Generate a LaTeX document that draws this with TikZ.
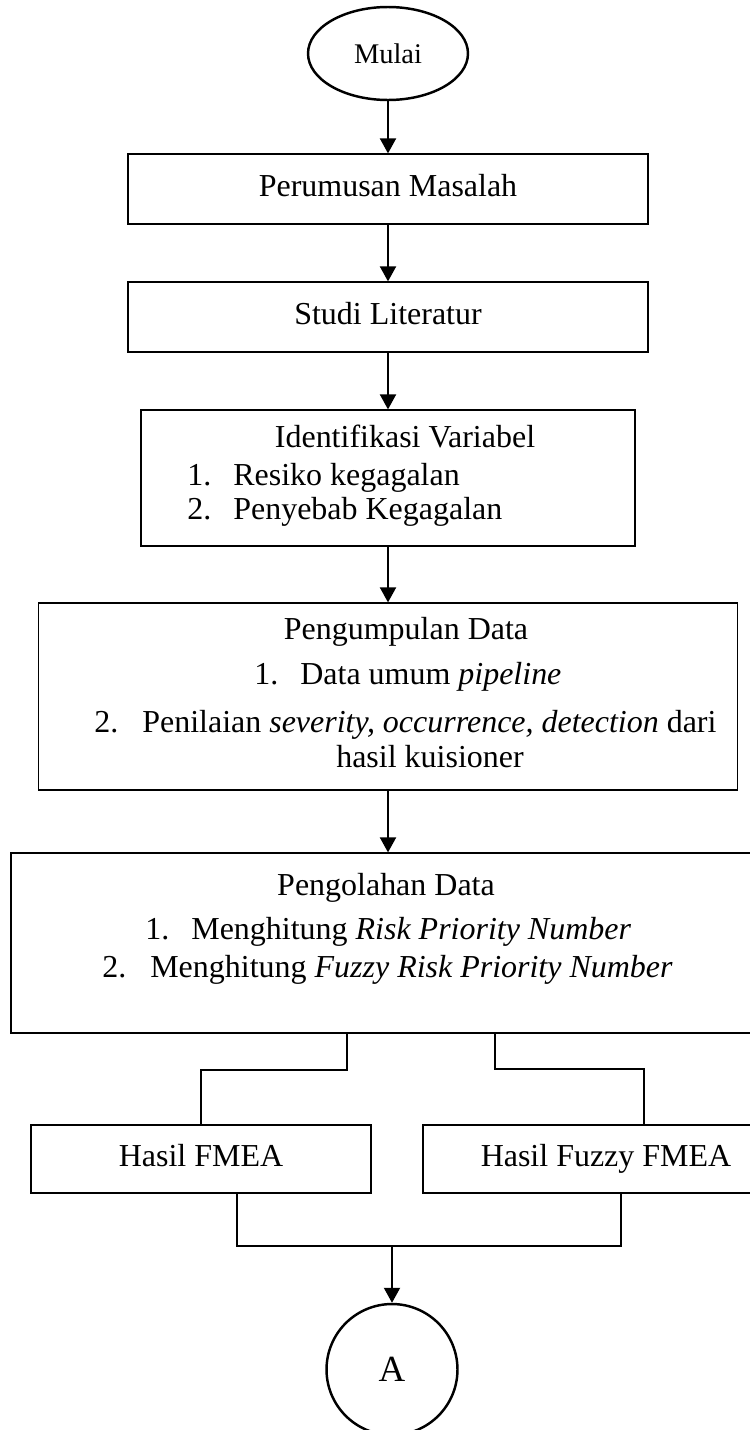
\documentclass[tikz,border=0pt]{standalone}
\usepackage{fontspec}
\setmainfont{Liberation Serif}
\usetikzlibrary{arrows.meta,shapes.geometric}
\newcommand{\teks}{\fontsize{18.2}{22}\selectfont}
\tikzset{
	kotak/.style={draw,line width=0.7pt,rectangle,inner sep=0pt,text height=0.45cm,text depth=0.14cm,font=\teks},
	tulisan/.style={inner sep=0pt,text height=0.45cm,text depth=0.14cm,font=\teks},
	garis/.style={line width=1.1pt},
	panah/.style={line width=1.1pt,-{Triangle[length=0.3cm,width=0.32cm]}},
}
\begin{document}
\begin{tikzpicture}[x=0.02cm,y=-0.02cm]
		\useasboundingbox (0,0) rectangle (750,1430);

		\node[ellipse,draw,line width=1.4pt,minimum width=3.2cm,minimum height=1.86cm,inner sep=0pt,font=\fontsize{16.2}{20}\selectfont] (mulai) at (388,53.5) {Mulai};

		\node[kotak,minimum width=10.4cm,minimum height=1.4cm] (perumusan) at (388,189) {Perumusan Masalah};
		\node[kotak,minimum width=10.4cm,minimum height=1.4cm] (studi) at (388,317) {Studi Literatur};

		\node[kotak,minimum width=9.88cm,minimum height=2.72cm] (identifikasi) at (388,478) {};
		\node[tulisan] (tidentifikasi) at (405,440) {Identifikasi Variabel};
		\node[tulisan,anchor=west] (resiko) at (187,478) {\makebox[0.92cm][l]{1.}Resiko kegagalan};
		\node[tulisan,anchor=west] (penyebab) at (187,512) {\makebox[0.92cm][l]{2.}Penyebab Kegagalan};

		\node[kotak,minimum width=13.98cm,minimum height=3.74cm] (pengumpulan) at (388,696.5) {};
		\node[tulisan] (tpengumpulan) at (406,632) {Pengumpulan Data};
		\node[tulisan,anchor=west] (dataumum) at (254,677) {\makebox[0.92cm][l]{1.}Data umum \textit{pipeline}};
		\node[tulisan,anchor=west] (penilaian) at (94,725) {\makebox[0.96cm][l]{2.}Penilaian \textit{severity, occurrence, detection} dari};
		\node[tulisan] (kuisioner) at (430,760) {hasil kuisioner};

		\node[kotak,minimum width=14.88cm,minimum height=3.6cm] (pengolahan) at (383,943) {};
		\node[tulisan] (tpengolahan) at (386,888) {Pengolahan Data};
		\node[tulisan,anchor=west] (rpn) at (145,932) {\makebox[0.92cm][l]{1.}Menghitung \textit{Risk Priority Number}};
		\node[tulisan,anchor=west] (frpn) at (102,970) {\makebox[0.96cm][l]{2.}Menghitung \textit{Fuzzy Risk Priority Number}};

		\node[kotak,minimum width=6.8cm,minimum height=1.36cm] (fmea) at (201,1159) {Hasil FMEA};
		\node[kotak,minimum width=7.32cm,minimum height=1.36cm] (fuzzy) at (606,1159) {Hasil Fuzzy FMEA};

		\node[circle,draw,line width=1.4pt,minimum size=2.62cm,inner sep=0pt,font=\fontsize{21}{25}\selectfont] (lingkaran) at (392,1369.5) {A};

		\draw[panah] (mulai) -- (perumusan);
		\draw[panah] (perumusan) -- (studi);
		\draw[panah] (studi) -- (identifikasi);
		\draw[panah] (identifikasi) -- (pengumpulan);
		\draw[panah] (pengumpulan.south) -- (pengolahan.north -| pengumpulan.south);

		\coordinate (kiri) at (347,1070);
		\coordinate (kanan) at (495,1069);
		\coordinate (kanan2) at (644,1069);
		\draw[garis] (pengolahan.south -| kiri) -- (kiri) -| (fmea.north);
		\draw[garis] (pengolahan.south -| kanan) -- (kanan) -- (kanan2) -- (kanan2 |- fuzzy.north);

		\coordinate (bkiri) at (237,1246);
		\coordinate (bkanan) at (621,1246);
		\coordinate (gabung) at (392,1246);
		\draw[garis] (bkiri |- fmea.south) -- (bkiri) -- (bkanan) -- (bkanan |- fuzzy.south);
		\draw[panah] (gabung) -- (lingkaran.north);
\end{tikzpicture}
\end{document}
